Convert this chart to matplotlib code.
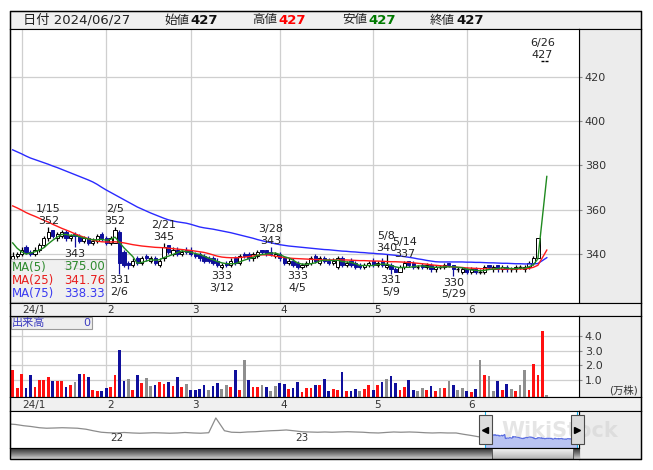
import numpy as np
import pandas as pd
import matplotlib
matplotlib.use("Agg")
import matplotlib.pyplot as plt
import matplotlib.dates as mdates
from matplotlib.patches import Rectangle
from matplotlib.colors import LinearSegmentedColormap
from matplotlib.ticker import FormatStrFormatter
from matplotlib.transforms import blended_transform_factory

plt.rcParams['font.family'] = ['DejaVu Sans', 'Noto Sans CJK JP']

# 東証の休場日 (2024/1-6)
holidays = ['2024-01-01', '2024-01-02', '2024-01-03', '2024-01-08', '2024-02-12',
            '2024-02-23', '2024-03-20', '2024-04-29', '2024-05-03', '2024-05-06']
dates = pd.bdate_range('2023-12-28', '2024-06-27', freq='C', holidays=holidays)

opens = [337, 339, 340, 343, 341, 340, 342, 344, 347, 351,
         347, 348, 350, 347, 349, 348, 346, 347, 345, 346,
         349, 347, 345, 345, 350, 341, 336, 335, 338, 336,
         339, 337, 338, 335, 338, 344, 340, 342, 340, 342,
         342, 340, 340, 339, 338, 338, 337, 334, 336, 335,
         338, 336, 340, 340, 338, 339, 342, 342, 341, 339,
         340, 338, 336, 337, 336, 334, 335, 336, 339, 336,
         338, 337, 336, 334, 338, 335, 337, 336, 335, 334,
         335, 337, 335, 337, 334, 335, 333, 332, 334, 337,
         336, 334, 335, 334, 335, 333, 334, 334, 336, 335,
         333, 332, 333, 332, 333, 332, 332, 335, 333, 335,
         333, 334, 333, 333, 334, 333, 334, 336, 338, 427,
         427]
highs = [341, 341, 343, 344, 342, 343, 345, 348, 352, 351,
         350, 351, 351, 349, 350, 349, 348, 348, 347, 349,
         350, 348, 348, 352, 351, 342, 337, 338, 339, 339,
         340, 339, 339, 338, 345, 344, 343, 343, 342, 343,
         343, 341, 341, 340, 339, 339, 338, 336, 337, 338,
         339, 340, 341, 341, 341, 342, 342, 342, 343, 341,
         341, 339, 338, 338, 337, 336, 337, 339, 340, 339,
         339, 338, 338, 339, 339, 337, 338, 337, 336, 336,
         337, 338, 337, 338, 340, 336, 334, 335, 337, 337,
         337, 335, 336, 336, 336, 335, 335, 336, 336, 335,
         334, 334, 334, 334, 334, 333, 335, 335, 335, 335,
         335, 335, 334, 335, 335, 335, 337, 339, 347, 427,
         427]
lows = [336, 338, 339, 340, 339, 339, 341, 343, 346, 347,
        346, 347, 346, 346, 343, 345, 345, 344, 344, 345,
        346, 344, 344, 345, 331, 334, 333, 334, 335, 335,
        337, 336, 335, 334, 337, 340, 339, 339, 339, 340,
        339, 338, 337, 336, 336, 335, 334, 333, 334, 334,
        335, 335, 338, 337, 337, 338, 340, 339, 339, 338,
        337, 335, 335, 334, 333, 333, 334, 335, 336, 335,
        336, 335, 335, 333, 334, 334, 334, 333, 333, 333,
        334, 334, 334, 334, 333, 331, 332, 332, 333, 334,
        333, 333, 333, 333, 332, 332, 333, 333, 334, 330,
        332, 331, 331, 331, 331, 331, 331, 333, 332, 332,
        332, 332, 332, 332, 333, 332, 333, 335, 338, 427,
        427]
closes = [339, 340, 342, 341, 340, 342, 344, 347, 350, 348,
          349, 350, 347, 348, 348, 346, 347, 345, 346, 348,
          347, 345, 347, 351, 336, 335, 335, 337, 336, 338,
          338, 338, 336, 337, 343, 341, 342, 340, 341, 341,
          340, 339, 338, 337, 337, 336, 335, 335, 335, 337,
          336, 339, 339, 338, 340, 341, 341, 340, 340, 340,
          338, 336, 337, 335, 334, 335, 336, 338, 337, 338,
          337, 336, 337, 338, 335, 336, 335, 334, 334, 335,
          336, 335, 336, 335, 335, 333, 332, 334, 336, 335,
          334, 334, 334, 335, 333, 334, 334, 335, 335, 333,
          333, 333, 332, 333, 332, 332, 334, 334, 334, 333,
          334, 333, 333, 334, 334, 334, 336, 338, 347, 427,
          427]
# 出来高 (万株)
volume = [1.68, 0.43, 1.41, 0.43, 1.34, 0.50, 1.00, 1.00, 1.18, 0.93,
          0.93, 0.93, 0.50, 0.66, 0.89, 1.41, 1.41, 1.18, 0.32, 0.25,
          0.25, 0.43, 0.50, 1.34, 3.05, 0.93, 1.05, 0.32, 1.34, 0.77,
          1.11, 0.59, 0.66, 0.86, 0.73, 0.86, 0.59, 1.18, 0.50, 0.73,
          0.32, 0.32, 0.36, 0.66, 0.32, 0.59, 0.77, 0.36, 0.66, 0.50,
          1.68, 0.32, 2.37, 1.00, 0.50, 0.50, 0.66, 0.50, 0.25, 0.59,
          0.77, 0.70, 0.36, 0.43, 0.84, 0.20, 0.43, 0.43, 0.66, 0.66,
          1.05, 0.28, 0.36, 0.32, 1.57, 0.23, 0.28, 0.36, 0.28, 0.36,
          0.66, 0.32, 0.66, 0.89, 1.07, 1.27, 0.82, 0.32, 0.50, 1.00,
          0.32, 0.28, 0.43, 0.32, 0.59, 0.28, 0.43, 0.43, 0.93, 0.66,
          0.32, 0.43, 0.25, 0.20, 0.39, 2.37, 1.34, 1.27, 0.28, 0.93,
          0.32, 0.73, 0.39, 0.28, 0.66, 1.68, 0.32, 2.10, 1.34, 4.36,
          0.00]
pre_close = [352, 350, 346, 338]   # 12/21-12/27 (MA5用)

ma25 = [361.7, 360.8, 359.8, 358.7, 357.8, 357.0, 356.1, 355.2, 354.4, 353.4,
        352.5, 351.6, 350.8, 350.0, 349.1, 348.3, 347.6, 346.9, 346.3, 345.8,
        345.5, 345.4, 345.4, 345.5, 345.3, 345.0, 344.6, 344.2, 343.9, 343.6,
        343.4, 343.2, 343.0, 342.9, 342.8, 342.6, 342.4, 342.2, 342.0, 341.8,
        341.6, 341.3, 341.0, 340.7, 340.2, 339.6, 339.0, 338.6, 338.4, 338.3,
        338.3, 338.4, 338.6, 338.8, 339.1, 339.4, 339.6, 339.6, 339.4, 339.0,
        338.7, 338.4, 338.2, 338.0, 337.9, 337.8, 337.7, 337.6, 337.5, 337.4,
        337.3, 337.3, 337.3, 337.3, 337.3, 337.3, 337.2, 337.1, 337.0, 337.0,
        336.9, 336.8, 336.8, 336.7, 336.6, 336.5, 336.5, 336.4, 336.3, 336.2,
        336.0, 335.8, 335.6, 335.4, 335.1, 334.9, 334.7, 334.5, 334.3, 334.2,
        334.0, 333.9, 333.7, 333.6, 333.5, 333.4, 333.3, 333.3, 333.2, 333.2,
        333.2, 333.2, 333.2, 333.2, 333.2, 333.3, 333.5, 334.0, 334.9, 338.3,
        341.76]
ma75 = [387.0, 386.1, 385.2, 384.2, 383.3, 382.6, 381.9, 381.2, 380.5, 379.7,
        379.0, 378.2, 377.4, 376.6, 375.8, 375.0, 374.2, 373.4, 372.5, 371.4,
        370.1, 368.9, 367.8, 366.7, 365.6, 364.5, 363.4, 362.3, 361.2, 360.3,
        359.4, 358.5, 357.7, 356.9, 356.1, 355.4, 354.9, 354.5, 354.2, 353.9,
        353.4, 352.8, 352.2, 351.8, 351.5, 351.2, 350.8, 350.4, 350.0, 349.6,
        349.1, 348.6, 348.1, 347.6, 347.1, 346.5, 346.0, 345.5, 345.1, 344.6,
        344.2, 343.9, 343.6, 343.4, 343.2, 343.0, 342.8, 342.6, 342.4, 342.2,
        342.0, 341.9, 341.7, 341.5, 341.3, 341.2, 341.0, 340.9, 340.7, 340.6,
        340.4, 340.3, 340.1, 340.0, 339.8, 339.6, 339.4, 339.1, 338.8, 338.5,
        338.2, 337.8, 337.5, 337.1, 336.8, 336.5, 336.4, 336.4, 336.4, 336.4,
        336.4, 336.4, 336.3, 336.3, 336.2, 336.2, 336.1, 336.0, 336.0, 335.9,
        335.8, 335.8, 335.7, 335.6, 335.6, 335.5, 335.5, 335.5, 335.7, 337.0,
        338.33]

# 高値・安値の注記 (日付index, 種類)
marks = [(8, 'hi'), (14, 'lo'), (23, 'hi'), (24, 'lo'), (34, 'hi'), (47, 'lo'),
         (58, 'hi'), (64, 'lo'), (84, 'hi'), (88, 'hi'), (85, 'lo'), (99, 'lo'),
         (119, 'hi')]

# ナビゲーター (半月ごとの終値)
nav_dates_old = pd.date_range('2021-06-01', '2023-12-15', freq='SMS')
nav_old = [393, 391, 386, 383, 378, 376, 377, 378, 377, 376,
           372, 366, 360, 358, 357, 359, 357, 356, 357, 358,
           357, 356, 357, 359, 357, 356, 358, 417, 366, 360,
           359, 361, 362, 364, 366, 367, 369, 366, 362, 361,
           360, 361, 360, 361, 362, 361, 360, 358, 357, 359,
           361, 360, 361, 360, 358, 357, 358, 357, 357, 352,
           347, 342]

W, H = 653, 470
L, R, PR = 10, 640.5, 579.3
GRAY = '#ececec'
NAVY = '#0f0f9c'
RED = '#ff1a1a'
TXT = '#333333'

fig = plt.figure(figsize=(W / 100, H / 100), dpi=100)


def panel(x0, y0, x1, y1, fc='white'):
    a = fig.add_axes([x0 / W, 1 - y1 / H, (x1 - x0) / W, (y1 - y0) / H])
    a.set_facecolor(fc)
    for s in a.spines.values():
        s.set_color('black')
        s.set_linewidth(0.8)
    return a


def blank(a):
    a.set_xticks([])
    a.set_yticks([])


n = len(closes)
x = np.arange(n)
o = np.array(opens, float)
h = np.array(highs, float)
lo = np.array(lows, float)
c = np.array(closes, float)
full = np.array(pre_close + closes, float)
ma5 = np.convolve(full, np.ones(5) / 5, mode='valid')
prev = np.array([pre_close[-1]] + closes[:-1], float)

month_starts = [i for i in range(1, n) if dates[i].month != dates[i - 1].month]
month_labels = ['24/1' if dates[i].month == 1 else str(dates[i].month) for i in month_starts]

xmin, xmax = -0.6, 127.3
scale = (PR - L) / (xmax - xmin)

# ---- header ----
hd = panel(L, 10.7, R, 29.3, '#f0f0f0')
blank(hd)
hd.set_xlim(0, W)
hd.set_ylim(29.3, 10.7)
hd.text(13, 20, '日付 ' + dates[-1].strftime('%Y/%m/%d'), va='center', fontsize=9.5, color='#222')
for lab, val, px, col in [('始値', opens[-1], 160, '#111'), ('高値', highs[-1], 251, '#ff0000'),
                          ('安値', lows[-1], 344, '#007a00'), ('終値', closes[-1], 435, '#111')]:
    hd.text(px, 20, lab, va='center', fontsize=9, color='#222')
    hd.text(px + 27, 20, str(val), va='center', fontsize=9.5, fontweight='bold', color=col)

# ---- main price chart ----
rax = panel(PR, 29.3, R, 302.5, GRAY)
blank(rax)
ax = panel(L, 29.3, PR, 302.5)
ax.set_xlim(xmin, xmax)
ax.set_ylim(318.1, 441.4)
ax.set_xticks(month_starts)
ax.tick_params(axis='x', length=0, labelbottom=False)
ax.yaxis.tick_right()
ax.set_yticks([340, 360, 380, 400, 420])
ax.tick_params(axis='y', length=2.5, width=0.8, color='#888', labelsize=8, labelcolor=TXT, pad=1.5)
ax.grid(True, color='#cfcfcf', lw=0.9)
ax.set_axisbelow(True)

up = c >= o
wick_col = ['black' if u else NAVY for u in up]
ax.vlines(x, lo, h, colors=wick_col, lw=0.9, zorder=2)
body = o != c
ax.bar(x[body], np.abs(c - o)[body], bottom=np.minimum(o, c)[body], width=0.72,
       color=['white' if u else NAVY for u in up[body]],
       edgecolor=['black' if u else NAVY for u in up[body]], lw=0.7, zorder=3)
flat = ~body
ax.hlines(o[flat], x[flat] - 0.36, x[flat] + 0.36, color='black', lw=1, zorder=3)

ax.plot(x, ma75, color='#2a2aff', lw=1, zorder=4)
ax.plot(x, ma25, color=RED, lw=1, zorder=4)
ax.plot(x, ma5, color='#1f8a1f', lw=1, zorder=5)

for i, side in marks:
    d = f'{dates[i].month}/{dates[i].day}'
    if side == 'hi':
        ax.annotate(f'{highs[i]}', (i, highs[i]), xytext=(0, 1), textcoords='offset points',
                    ha='center', va='bottom', fontsize=8, color='#222', zorder=6)
        ax.annotate(d, (i, highs[i]), xytext=(0, 9.6), textcoords='offset points',
                    ha='center', va='bottom', fontsize=8, color='#222', zorder=6)
    else:
        ax.annotate(f'{lows[i]}', (i, lows[i]), xytext=(0, -1), textcoords='offset points',
                    ha='center', va='top', fontsize=8, color='#222', zorder=6)
        ax.annotate(d, (i, lows[i]), xytext=(0, -9.6), textcoords='offset points',
                    ha='center', va='top', fontsize=8, color='#222', zorder=6)


def strip(y0, y1):
    s = panel(L, y0, R, y1, '#f0f0f0')
    blank(s)
    s.set_xlim(xmin, xmin + (R - L) / scale)
    tr = blended_transform_factory(s.transData, s.transAxes)
    for i, lab in zip(month_starts, month_labels):
        s.text(i + 0.25, 0.45, lab, transform=tr, ha='left', va='center', fontsize=7.5, color=TXT)
    return s


strip(302.5, 315.7)

# ---- volume ----
vrax = panel(PR, 315.7, R, 397.3, GRAY)
blank(vrax)
vax = panel(L, 315.7, PR, 397.3)
vax.set_xlim(xmin, xmax)
vax.set_ylim(-0.18, 5.39)
vax.set_xticks(month_starts)
vax.tick_params(axis='x', length=0, labelbottom=False)
vax.yaxis.tick_right()
vax.set_yticks([1, 2, 3, 4])
vax.yaxis.set_major_formatter(FormatStrFormatter('%.1f'))
vax.tick_params(axis='y', length=2.5, width=0.8, color='#888', labelsize=8, labelcolor=TXT, pad=1.5)
vax.grid(True, color='#cfcfcf', lw=0.9)
vax.set_axisbelow(True)
vcol = np.where(c > prev, '#ff1010', np.where(c < prev, NAVY, '#8e8e8e'))
vb = vax.get_ylim()[0]
vol = np.array(volume)
vax.bar(x, vol - vb, bottom=vb, width=0.62, color=vcol, zorder=3)

strip(397.3, 410.7)

# ---- navigator ----
nrax = panel(PR, 410.7, R, 459, GRAY)
blank(nrax)
nav = panel(L, 410.7, PR, 448)
blank(nav)
nav.set_xlim(mdates.date2num(pd.Timestamp('2021-06-04')), mdates.date2num(pd.Timestamp('2024-07-01')))
nav.set_ylim(297, 446)
nx_old = mdates.date2num(nav_dates_old.to_pydatetime())
nx_new = mdates.date2num(dates.to_pydatetime())
nav.plot(np.r_[nx_old, nx_new[0]], nav_old + [closes[0]], color='#8c8c8c', lw=0.9)
nav.fill_between(nx_new, closes, 297, color='#b9c3f2', lw=0)
nav.plot(nx_new, closes, color='#5a6de0', lw=0.9)
for yr in ['2022', '2023', '2024']:
    nav.text(mdates.date2num(pd.Timestamp(yr + '-01-01')), 0.27, yr[2:], ha='center', va='center',
             fontsize=7.5, color=TXT, transform=blended_transform_factory(nav.transData, nav.transAxes))
nav.axvline(nx_new[0], color='#19b2ea', lw=0.8)
nav.axvline(nx_new[-1], color='#19b2ea', lw=0.8)

# ---- overlay (legend boxes, handles, scrollbar) ----
ov = fig.add_axes([0, 0, 1, 1])
ov.axis('off')
ov.set_autoscale_on(False)


def to_px(a, xv, yv):
    d = a.transData.transform((xv, yv))
    return d[0], H - d[1]


hx0 = to_px(nav, nx_new[0], 300)[0]
hx1 = to_px(nav, nx_new[-1], 300)[0]

ov.text(560, 431, 'WikiStock', fontsize=15, fontweight='bold', color='#d4d4d4', alpha=0.6,
        ha='center', va='center', zorder=1)

dark = LinearSegmentedColormap.from_list('d', ['#2e2e2e', '#7a7a7a', '#cfcfcf'])
light = LinearSegmentedColormap.from_list('l', ['#f4f4f4', '#d6d6d6', '#b4b4b4'])
grad = np.linspace(0, 1, 20).reshape(-1, 1)
ov.imshow(grad, cmap=dark, extent=(L, PR, 459, 448), aspect='auto', zorder=2)
ov.imshow(grad, cmap=light, extent=(hx0 + 7, hx1 - 4, 459, 448), aspect='auto', zorder=3)
ov.add_patch(Rectangle((hx0 + 7, 448), hx1 - 4 - hx0 - 7, 11, fill=False, ec='#555', lw=0.7, zorder=4))
ov.plot([L, PR], [448, 448], color='black', lw=0.8, zorder=4)

for hx, mk in [(hx0, '<'), (hx1, '>')]:
    ov.add_patch(Rectangle((hx - 6.5, 415), 13, 29, fc='#dcdcdc', ec='#4a4a4a', lw=0.8, zorder=5))
    ov.plot(hx, 429.5, marker=mk, color='black', ms=4, zorder=6)

# MA legend
ov.add_patch(Rectangle((L, 259), 96, 42.7, fc='#eeeeee', ec='#9a9a9a', lw=0.8, alpha=0.88, zorder=5))
for yy, lab, val, col in [(267, 'MA(5)', ma5[-1], '#2e8b2e'), (280.3, 'MA(25)', ma25[-1], '#e81c1c'),
                          (293.6, 'MA(75)', ma75[-1], '#3a3af0')]:
    ov.text(12, yy, lab, ha='left', va='center', fontsize=8.5, color=col, zorder=6)
    ov.text(105, yy, f'{val:.2f}', ha='right', va='center', fontsize=8.5, color=col, zorder=6)

# volume legend
ov.add_patch(Rectangle((10.7, 316.5), 81, 12.8, fc='#eeeeee', ec='#9a9a9a', lw=0.8, zorder=5))
ov.text(12, 323, '出来高', ha='left', va='center', fontsize=8, color='#3c3cc0', zorder=6)
ov.text(90, 323, f'{volume[-1]:.0f}', ha='right', va='center', fontsize=8, color='#3c3cc0', zorder=6)
ov.text(624, 390, '(万株)', ha='center', va='center', fontsize=7.5, color=TXT, zorder=6)

ov.add_patch(Rectangle((L, 10.7), R - L, 459 - 10.7, fill=False, ec='black', lw=1, zorder=7))
ov.set_xlim(0, W)
ov.set_ylim(H, 0)

fig.savefig('out.png', dpi=100)
